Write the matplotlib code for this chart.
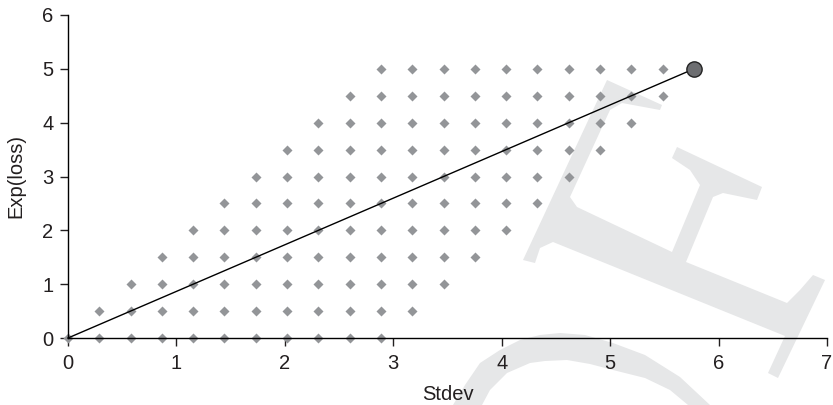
import matplotlib
matplotlib.use("Agg")
import matplotlib.pyplot as plt
from matplotlib.patches import Polygon

plt.rcParams['font.family'] = ['Liberation Sans', 'DejaVu Sans']

# stdev of each column of portfolios
stdev = [0.0, 0.289, 0.577, 0.866, 1.155, 1.443, 1.732, 2.021, 2.309, 2.598,
         2.887, 3.175, 3.464, 3.753, 4.041, 4.330, 4.619, 4.907, 5.196, 5.485]

# expected loss values seen in each column
exp_loss = [
    [0.0],
    [0.0, 0.5],
    [0.0, 0.5, 1.0],
    [0.0, 0.5, 1.0, 1.5],
    [0.0, 0.5, 1.0, 1.5, 2.0],
    [0.0, 0.5, 1.0, 1.5, 2.0, 2.5],
    [0.0, 0.5, 1.0, 1.5, 2.0, 2.5, 3.0],
    [0.0, 0.5, 1.0, 1.5, 2.0, 2.5, 3.0, 3.5],
    [0.0, 0.5, 1.0, 1.5, 2.0, 2.5, 3.0, 3.5, 4.0],
    [0.0, 0.5, 1.0, 1.5, 2.0, 2.5, 3.0, 3.5, 4.0, 4.5],
    [0.0, 0.5, 1.0, 1.5, 2.0, 2.5, 3.0, 3.5, 4.0, 4.5, 5.0],
    [0.5, 1.0, 1.5, 2.0, 2.5, 3.0, 3.5, 4.0, 4.5, 5.0],
    [1.0, 1.5, 2.0, 2.5, 3.0, 3.5, 4.0, 4.5, 5.0],
    [1.5, 2.0, 2.5, 3.0, 3.5, 4.0, 4.5, 5.0],
    [2.0, 2.5, 3.0, 3.5, 4.0, 4.5, 5.0],
    [2.5, 3.0, 3.5, 4.0, 4.5, 5.0],
    [3.0, 3.5, 4.0, 4.5, 5.0],
    [3.5, 4.0, 4.5, 5.0],
    [4.0, 4.5, 5.0],
    [4.5, 5.0],
]

# extreme point and the line from the origin to it
end_x, end_y = 5.774, 5.0
line_x = [0.0, end_x]
line_y = [0.0, end_y]

xticks = [0, 1, 2, 3, 4, 5, 6, 7]
yticks = [0, 1, 2, 3, 4, 5, 6]

W, H = 833, 405
fig = plt.figure(figsize=(W / 100, H / 100), dpi=100)
fig.patch.set_facecolor("white")

# background watermark (pixel outline, y from top)
wm_h = [(607, 80), (662, 105), (660, 110), (622, 103), (610, 110), (570, 197),
        (577, 207), (672, 252), (700, 185), (690, 170), (672, 158), (677, 147),
        (762, 187), (757, 200), (723, 193), (713, 197), (686, 262), (787, 303),
        (800, 290), (813, 275), (825, 280), (778, 378), (768, 373), (785, 336),
        (553, 242), (540, 248), (535, 263), (523, 260)]
wm_arc = [(453, 405), (465, 385), (480, 363), (500, 350), (520, 340), (540, 335),
          (560, 333), (585, 335), (613, 343), (645, 355), (680, 377), (710, 405),
          (688, 405), (670, 390), (645, 378), (613, 370), (590, 364), (567, 360),
          (545, 361), (530, 363), (507, 373), (490, 390), (482, 405)]
for shape in (wm_h, wm_arc):
    pts = [(px / W, 1 - py / H) for px, py in shape]
    fig.add_artist(Polygon(pts, closed=True, transform=fig.transFigure,
                           facecolor="#e6e7e8", edgecolor="none", zorder=-1))

ax = fig.add_axes([68 / W, 1 - 338 / H, (827 - 68) / W, (338 - 15) / H])
ax.patch.set_facecolor("none")

ax.plot(line_x, line_y, color="black", lw=1.0, zorder=3, clip_on=False)
for x, ys in zip(stdev, exp_loss):
    ax.plot([x] * len(ys), ys, linestyle="none", marker="D", ms=5.2,
            color="#939598", mec="none", zorder=2, clip_on=False)
ax.plot([end_x], [end_y], linestyle="none", marker="o", ms=11,
        mfc="#6d6e71", mec="#222222", mew=1.0, zorder=4, clip_on=False)

ax.set_xlim(0, 7)
ax.set_ylim(0, 6)
ax.set_xticks(xticks)
ax.set_yticks(yticks)
ax.spines["top"].set_visible(False)
ax.spines["right"].set_visible(False)
for s in ("left", "bottom"):
    ax.spines[s].set_linewidth(1.0)
ax.tick_params(direction="out", length=5.5, width=1.0, labelsize=14.5,
               colors="#231f20")
ax.tick_params(axis="x", pad=6)
ax.tick_params(axis="y", pad=5)
ax.set_xlabel("Stdev", fontsize=14.5, color="#231f20", labelpad=9)
ax.set_ylabel("Exp(loss)", fontsize=14.5, color="#231f20", labelpad=12)

fig.savefig("out.png", dpi=100, facecolor="white")
